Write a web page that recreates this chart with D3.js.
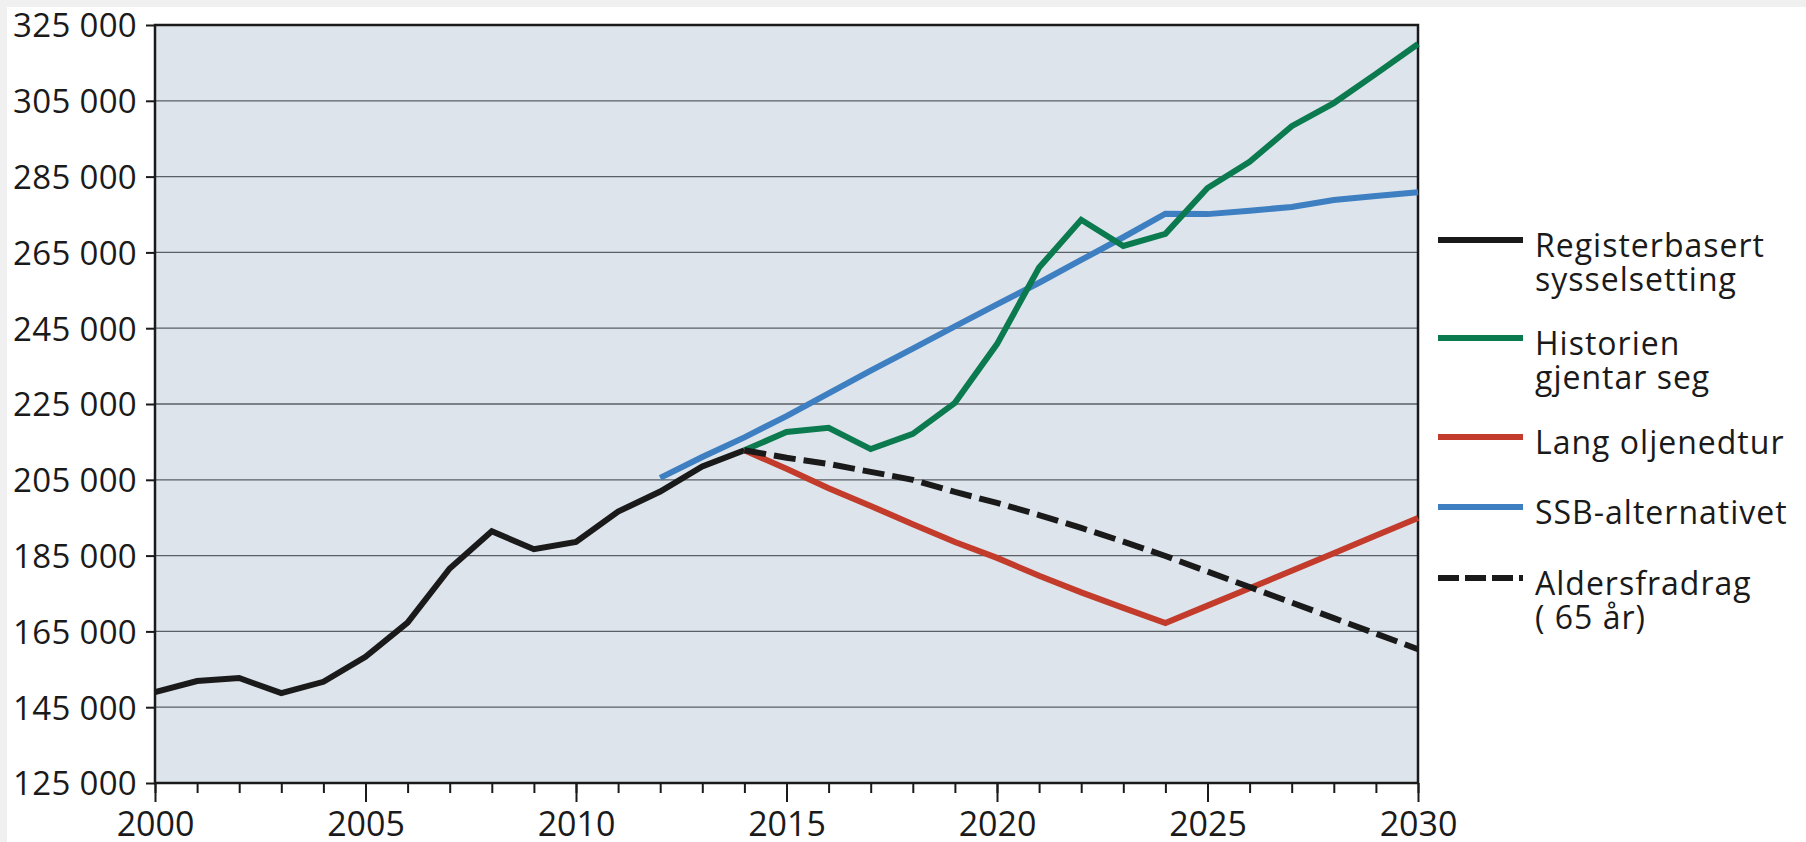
<!DOCTYPE html>
<html>
<head>
<meta charset="utf-8">
<script src="https://cdn.jsdelivr.net/npm/d3@7"></script>
<style>
  html, body { margin: 0; padding: 0; background: #fff; }
  body { width: 1806px; height: 842px; overflow: hidden; }
  svg text { font-family: "Open Sans", "DejaVu Sans", sans-serif; fill: #1a1a1a; }
</style>
</head>
<body>
<svg id="chart" width="1806" height="842"></svg>
<script>
// values (number employed)
var registerYears = [2000, 2001, 2002, 2003, 2004, 2005, 2006, 2007, 2008, 2009, 2010, 2011, 2012, 2013, 2014]
var registerValues = [149000, 151900, 152700, 148700, 151700, 158300, 167300, 181600, 191400, 186700, 188600, 196600, 201900, 208500, 212800]

var scenarioYears = [2014, 2015, 2016, 2017, 2018, 2019, 2020, 2021, 2022, 2023, 2024, 2025, 2026, 2027, 2028, 2029, 2030]
var historienValues = [212800, 217600, 218700, 213100, 217100, 225300, 240800, 261000, 273600, 266700, 269900, 282000, 288900, 298300, 304400, 312100, 320000]
var oljenedturValues = [212800, 207900, 202800, 198100, 193300, 188600, 184400, 179700, 175300, 171200, 167200, 171800, 176400, 181000, 185600, 190300, 194900]
var aldersValues = [212800, 210800, 209200, 207100, 205000, 201800, 198900, 195700, 192300, 188700, 184900, 180800, 176700, 172600, 168500, 164400, 160300]

var ssbYears = [2012, 2013, 2014, 2015, 2016, 2017, 2018, 2019, 2020, 2021, 2022, 2023, 2024, 2025, 2026, 2027, 2028, 2029, 2030]
var ssbValues = [205500, 211000, 216200, 221800, 227800, 233800, 239600, 245500, 251300, 257000, 263000, 269000, 275200, 275100, 276000, 277000, 278800, 279900, 280900]

var yTicks = [125000, 145000, 165000, 185000, 205000, 225000, 245000, 265000, 285000, 305000, 325000]
var xLabelYears = [2000, 2005, 2010, 2015, 2020, 2025, 2030]

var legendNames = [["Registerbasert", "sysselsetting"], ["Historien", "gjentar seg"], ["Lang oljenedtur"], ["SSB-alternativet"], ["Aldersfradrag", "( 65 år)"]]

var svg = d3.select("#chart")
var plotLeft = 155, plotTop = 25, plotRight = 1418, plotBottom = 783

// grey strip along top and left edge
svg.append("rect").attr("x", 0).attr("y", 0).attr("width", 1806).attr("height", 7).attr("fill", "#f0f0f0")
svg.append("rect").attr("x", 0).attr("y", 0).attr("width", 7).attr("height", 842).attr("fill", "#f0f0f0")

var x = d3.scaleLinear().domain([2000, 2030]).range([plotLeft, plotRight])
var y = d3.scaleLinear().domain([125000, 325000]).range([plotBottom, plotTop])

svg.append("rect")
    .attr("x", plotLeft).attr("y", plotTop)
    .attr("width", plotRight - plotLeft).attr("height", plotBottom - plotTop)
    .attr("fill", "#dde4ec")

// gridlines
svg.append("g").selectAll("line")
    .data(yTicks.slice(1, -1))
    .enter().append("line")
    .attr("x1", plotLeft).attr("x2", plotRight)
    .attr("y1", function (d) { return y(d) }).attr("y2", function (d) { return y(d) })
    .attr("stroke", "#5a5f66").attr("stroke-width", 1.3)

var nf = d3.formatLocale({ decimal: ",", thousands: " ", grouping: [3], currency: ["", ""] }).format(",d")

var yAxis = svg.append("g")
    .attr("transform", "translate(" + plotLeft + ",0)")
    .call(d3.axisLeft(y).tickValues(yTicks).tickSize(9).tickPadding(9).tickFormat(nf))
yAxis.select(".domain").remove()
yAxis.selectAll("line").attr("stroke", "#1a1a1a").attr("stroke-width", 2)
yAxis.selectAll("text").style("font-size", "33px").style("letter-spacing", "0.3px").attr("dy", "0.36em")

// minor year ticks
var xMinor = svg.append("g")
    .attr("transform", "translate(0," + plotBottom + ")")
    .call(d3.axisBottom(x).ticks(30).tickSize(10).tickFormat(""))
xMinor.select(".domain").remove()
xMinor.selectAll("line").attr("stroke", "#1a1a1a").attr("stroke-width", 2)

var xAxis = svg.append("g")
    .attr("transform", "translate(0," + plotBottom + ")")
    .call(d3.axisBottom(x).tickValues(xLabelYears).tickSize(19).tickPadding(10).tickFormat(d3.format("d")))
xAxis.select(".domain").remove()
xAxis.selectAll("line").attr("stroke", "#1a1a1a").attr("stroke-width", 2)
xAxis.selectAll("text").style("font-size", "34px")

// frame
svg.append("rect")
    .attr("x", plotLeft).attr("y", plotTop)
    .attr("width", plotRight - plotLeft).attr("height", plotBottom - plotTop)
    .attr("fill", "none").attr("stroke", "#1a1a1a").attr("stroke-width", 2.5)

var line = d3.line()
    .x(function (d) { return x(d[0]) })
    .y(function (d) { return y(d[1]) })

var series = [
    { years: registerYears, values: registerValues, color: "#1a1a1a", dash: null },
    { years: ssbYears, values: ssbValues, color: "#3d7fc1", dash: null },
    { years: scenarioYears, values: historienValues, color: "#0b7a4f", dash: null },
    { years: scenarioYears, values: oljenedturValues, color: "#c23b2b", dash: null },
    { years: scenarioYears, values: aldersValues, color: "#1a1a1a", dash: "22,8" }
]

series.forEach(function (s) {
    svg.append("path")
        .datum(d3.zip(s.years, s.values))
        .attr("d", line)
        .attr("fill", "none")
        .attr("stroke", s.color)
        .attr("stroke-width", 6)
        .attr("stroke-linejoin", "miter")
        .attr("stroke-dasharray", s.dash)
})

// legend
var legendColors = ["#1a1a1a", "#0b7a4f", "#c23b2b", "#3d7fc1", "#1a1a1a"]
var legendDash = [null, null, null, null, "21,6"]
var legendY = [240, 338, 437, 507, 578]

var leg = svg.append("g").selectAll("g")
    .data(legendNames)
    .enter().append("g")
    .attr("transform", function (d, i) { return "translate(1438," + legendY[i] + ")" })

leg.append("line")
    .attr("x1", 0).attr("x2", 85)
    .attr("stroke", function (d, i) { return legendColors[i] })
    .attr("stroke-width", 6)
    .attr("stroke-dasharray", function (d, i) { return legendDash[i] })

leg.each(function (d) {
    var g = d3.select(this)
    d.forEach(function (s, j) {
        g.append("text")
            .attr("x", 97).attr("y", 17 + j * 34)
            .style("font-size", "32px")
            .style("letter-spacing", "1px")
            .text(s)
    })
})
</script>
</body>
</html>
